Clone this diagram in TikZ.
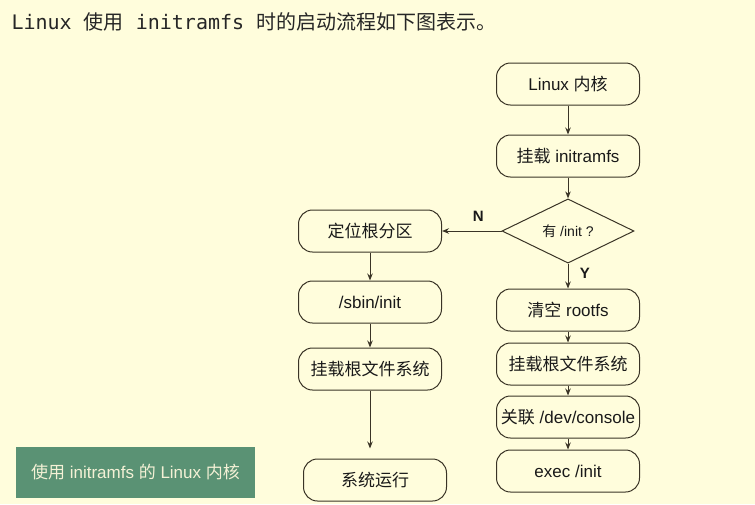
\documentclass[tikz,border=0pt]{standalone}
\usepackage{fontspec}
\setmainfont{Liberation Sans}
\setmonofont{DejaVu Sans Mono}
\newfontfamily\cjk{Noto Sans CJK SC}
\usetikzlibrary{arrows.meta,shapes.geometric}
\definecolor{paper}{HTML}{FFFDDC}
\definecolor{ink}{HTML}{3A3426}
\definecolor{leaf}{HTML}{5A9274}
\definecolor{cream}{HTML}{F4F1D6}
\newcommand{\zh}[1]{{\cjk #1}}
\tikzset{stepbox/.style={draw=ink,rounded corners=14pt,line width=1pt,minimum width=143pt,minimum height=42pt,inner sep=0pt,font=\fontsize{17}{20}\selectfont,text=black!90},askbox/.style={draw=ink,diamond,line width=1pt,minimum width=132pt,minimum height=57pt,inner sep=0pt,font=\fontsize{14}{16}\selectfont,text=black!90},flow/.style={draw=ink,line width=1pt,-{Stealth[length=7pt,width=5.5pt]}},branch/.style={font=\bfseries\fontsize{15}{17}\selectfont,text=black!90}}

\begin{document}
\begin{tikzpicture}[x=1pt,y=-1pt]
\fill[paper] (0,0) rectangle (755,504);
\useasboundingbox (0,0) rectangle (755,504);
\node[anchor=west,font=\ttfamily\fontsize{20}{24}\selectfont,text=black!85] (title) at (8,22) {Linux \zh{使用} initramfs \zh{时的启动流程如下图表示。}};
% initramfs branch
\node[stepbox] (kernel) at (568,84) {Linux \zh{内核}};
\node[stepbox] (mount) at (568,156) {\zh{挂载} initramfs};
\node[askbox] (ask) at (568,231) {\zh{有} /init ?};
\node[stepbox] (clear) at (568,310) {\zh{清空} rootfs};
\node[stepbox] (rootR) at (568,364) {\zh{挂载根文件系统}};
\node[stepbox] (console) at (568,417) {\zh{关联} /dev/console};
\node[stepbox] (exec) at (568,471) {exec /init};
% fallback branch
\node[stepbox] (locate) at (370,231) {\zh{定位根分区}};
\node[stepbox] (sbin) at (370,302) {/sbin/init};
\node[stepbox] (rootL) at (370,369) {\zh{挂载根文件系统}};
\node[stepbox] (run) at (375,480) {\zh{系统运行}};
\node[fill=leaf,text=cream,minimum width=239pt,minimum height=51pt,inner sep=0pt,font=\fontsize{17}{20}\selectfont] (tag) at (135.5,472.5) {\zh{使用} initramfs \zh{的} Linux \zh{内核}};
\draw[flow] (kernel) -- (mount);
\draw[flow] (mount) -- (ask);
\draw[flow] (ask) -- node[branch,right=8pt,pos=0.4] {Y} (clear);
\draw[flow] (ask) -- node[branch,above=6pt,pos=0.39] {N} (locate);
\draw[flow] (clear) -- (rootR);
\draw[flow] (rootR) -- (console);
\draw[flow] (console) -- (exec);
\draw[flow] (locate) -- (sbin);
\draw[flow] (sbin) -- (rootL);
\draw[flow,shorten >=10pt] (rootL) -- (rootL|-run.north);
\end{tikzpicture}
\end{document}
